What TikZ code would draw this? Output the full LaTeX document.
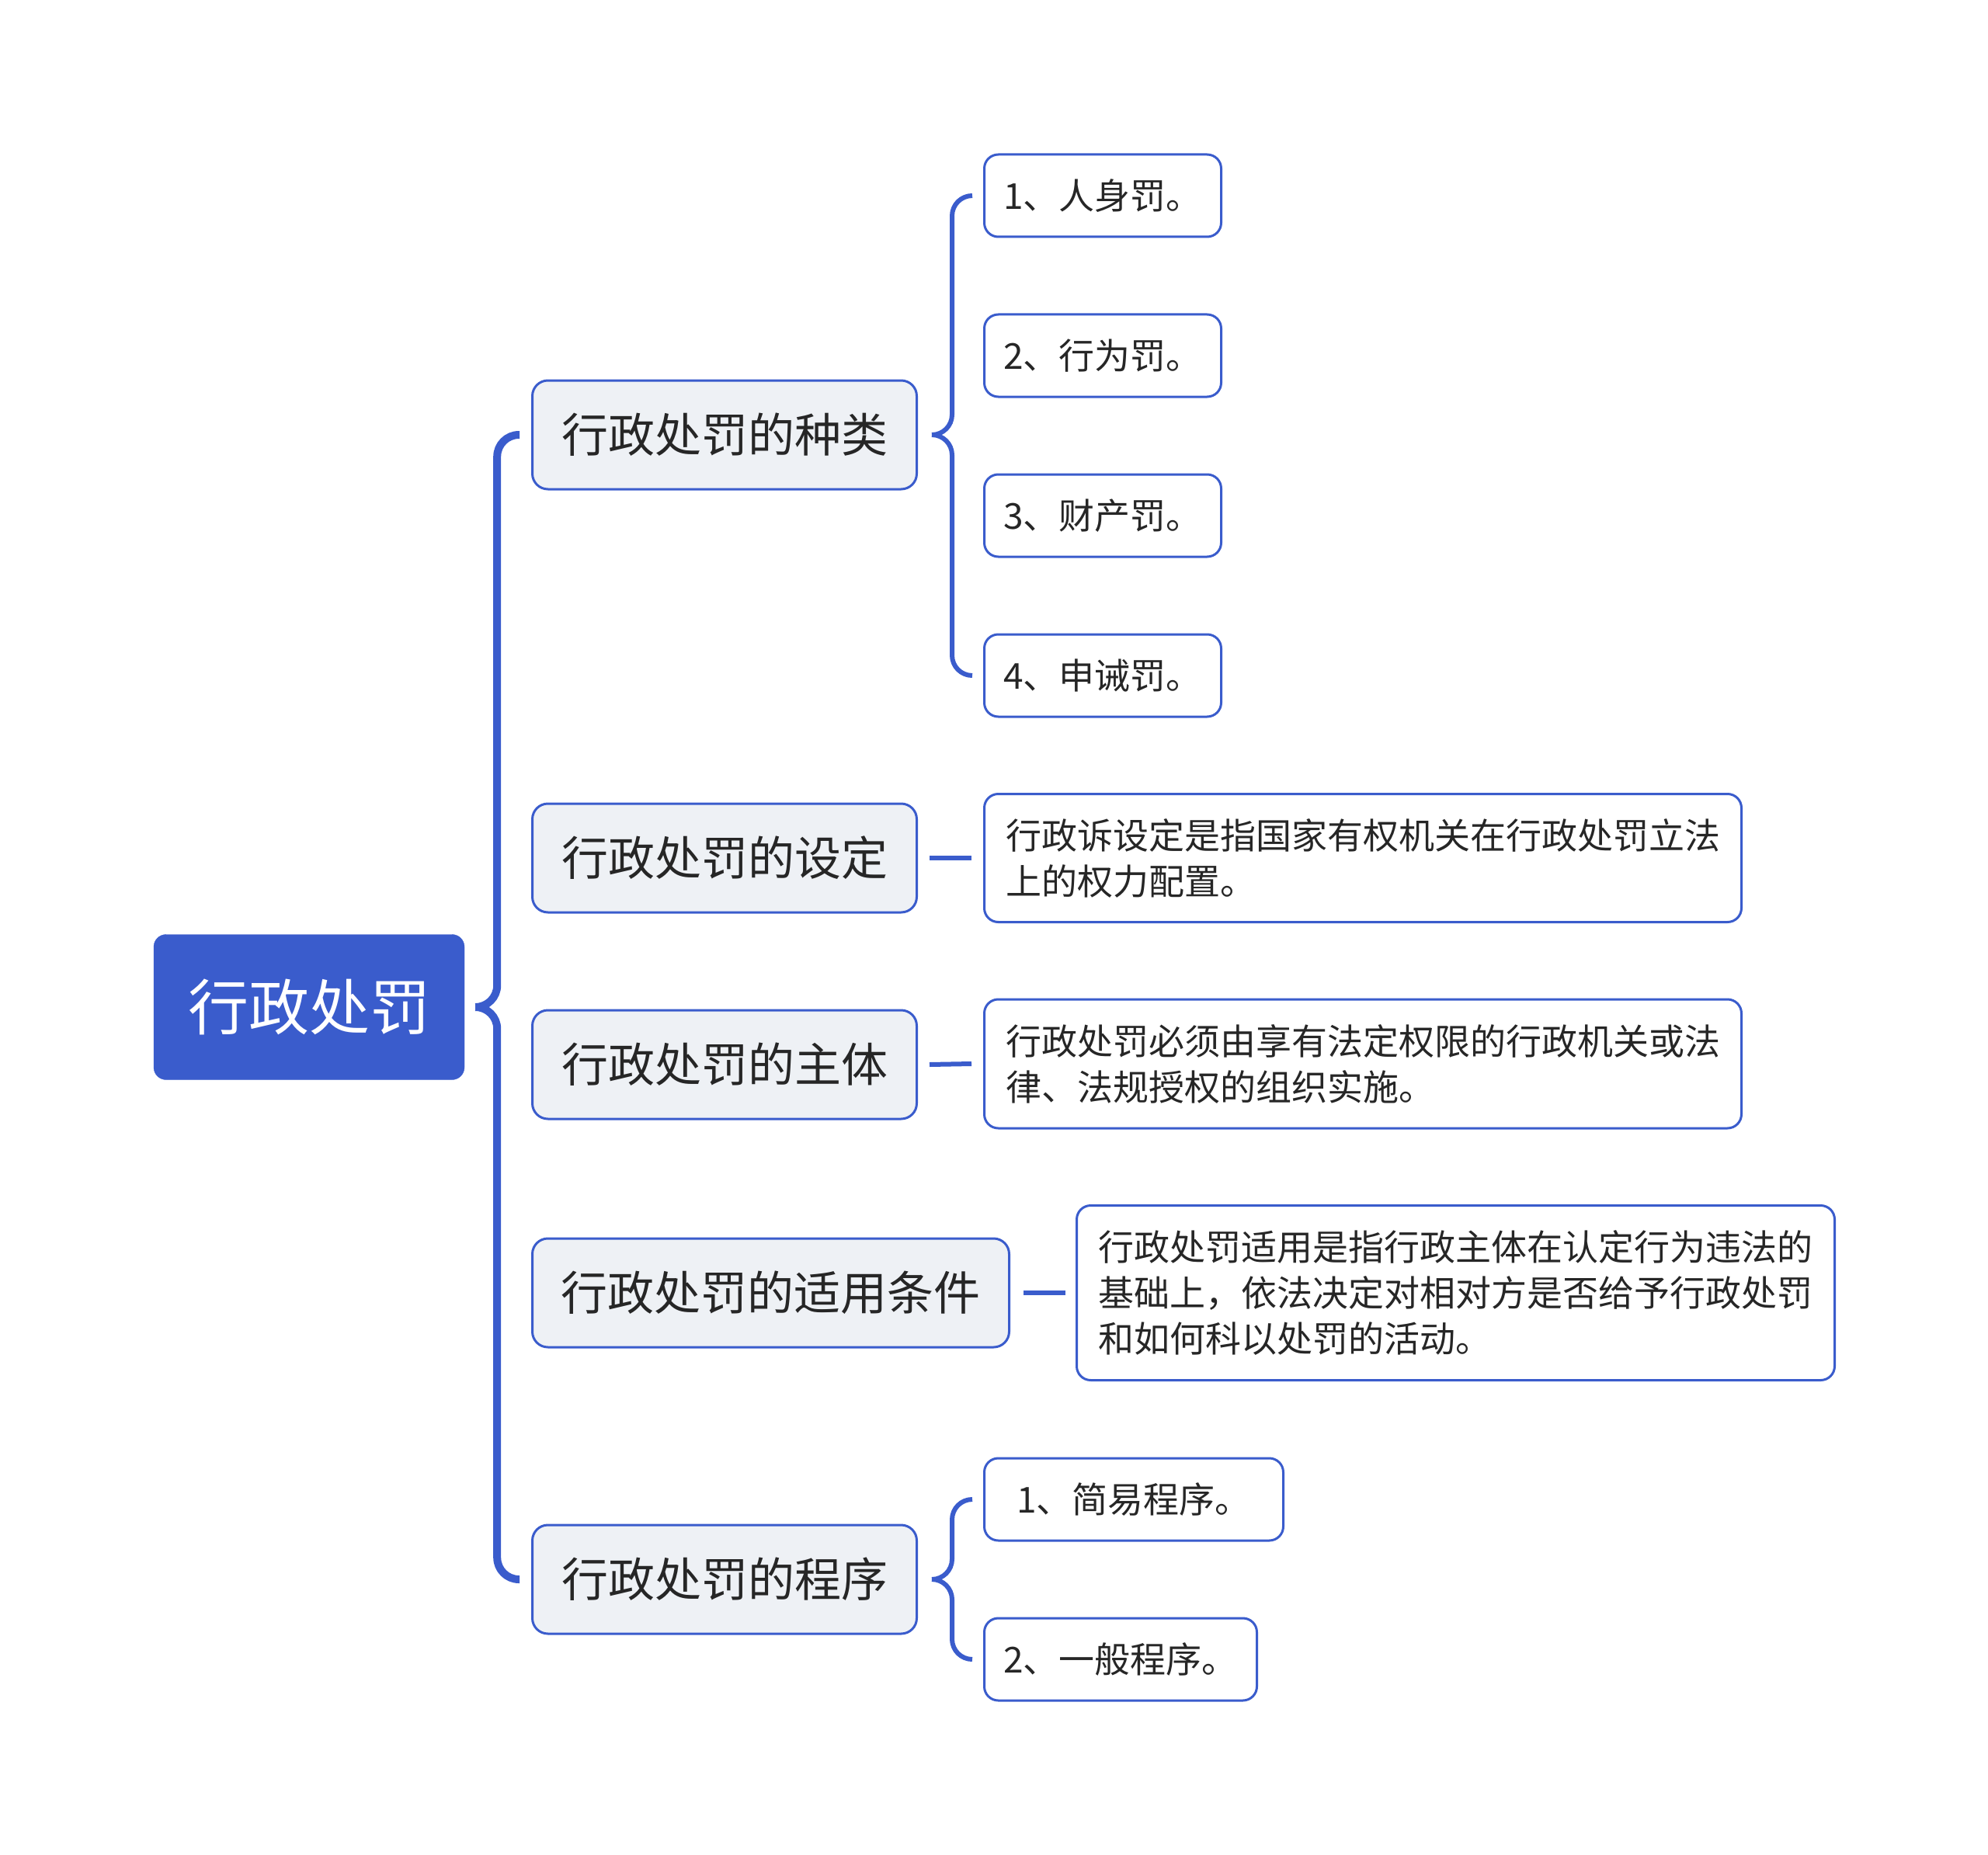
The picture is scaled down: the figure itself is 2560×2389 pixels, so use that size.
\documentclass[tikz,border=0pt]{standalone}
\usepackage{fontspec}
\usepackage{xcolor}
\usepackage{tikz}
\usetikzlibrary{positioning, calc}
\newfontfamily\cjk{Noto Sans CJK SC}
\definecolor{mapblue}{RGB}{58, 92, 204}
\definecolor{topicfill}{RGB}{238, 241, 245}
\definecolor{inkgray}{RGB}{38, 38, 38}

\begin{document}
\begin{tikzpicture}[x=1pt, y=-1pt,
    root/.style={draw=mapblue, fill=mapblue, rounded corners=16pt, minimum width=400pt, minimum height=187pt, text=white, font=\cjk\fontsize{78}{90}\selectfont},
    topic/.style={draw=mapblue, line width=3pt, fill=topicfill, rounded corners=20pt, minimum height=140pt, anchor=west, text=inkgray, font=\cjk\fontsize{60}{70}\selectfont},
    leaf/.style={draw=mapblue, line width=3pt, fill=white, rounded corners=18pt, minimum height=106pt, anchor=west, align=left, text=inkgray, font=\cjk\fontsize{46}{59}\selectfont},
    trunk/.style={mapblue, line width=10pt, rounded corners=28pt},
    twig/.style={mapblue, line width=6pt, rounded corners=26pt},
    link/.style={mapblue, line width=6pt}
]
\useasboundingbox (0,0) rectangle (2560,2389);

\node[root] (root) at (398,1297) {行政处罚};

\node[topic, minimum width=495pt] (kinds) at (684,560) {行政处罚的种类};
\node[topic, minimum width=495pt] (setting) at (684,1105) {行政处罚的设定};
\node[topic, minimum width=495pt] (subject) at (684,1371) {行政处罚的主体};
\node[topic, minimum width=614pt] (apply) at (684,1665) {行政处罚的适用条件};
\node[topic, minimum width=495pt] (proc) at (684,2034) {行政处罚的程序};

\node[leaf, minimum width=305pt] (k1) at (1266,252) {1、人身罚。};
\node[leaf, minimum width=305pt] (k2) at (1266,458) {2、行为罚。};
\node[leaf, minimum width=305pt] (k3) at (1266,664) {3、财产罚。};
\node[leaf, minimum width=305pt] (k4) at (1266,870) {4、申诫罚。};

\node[leaf, minimum width=975pt, minimum height=165pt] (sdesc) at (1266,1105)
  {行政诉设定是指国家有权机关在行政处罚立法\\上的权力配置。};
\node[leaf, minimum width=975pt, minimum height=166pt] (bdesc) at (1266,1370)
  {行政处罚必须由享有法定权限的行政机关或法\\律、法规授权的组织实施。};
\node[leaf, minimum width=976pt, minimum height=225pt] (adesc) at (1385,1665)
  {行政处罚适用是指行政主体在认定行为违法的\\基础上，依法决定对相对方是否给予行政处罚\\和如何科以处罚的活动。};

\node[leaf, minimum width=385pt] (p1) at (1266,1931) {1、简易程序。};
\node[leaf, minimum width=351pt] (p2) at (1266,2137) {2、一般程序。};

% root brace
\coordinate (rspur) at ($(root.east)+(14,0)$);
\coordinate (rtrunk) at ($(root.east)+(42,0)$);
\draw[trunk] (rspur) -- (rtrunk) -- (rtrunk |- kinds.west) -- ($(kinds.west)+(-15,0)$);
\draw[trunk] (rspur) -- (rtrunk) -- (rtrunk |- proc.west) -- ($(proc.west)+(-15,0)$);

% kinds brace
\coordinate (kspur) at ($(kinds.east)+(18,0)$);
\coordinate (ktrunk) at ($(kinds.east)+(44,0)$);
\draw[twig] (kspur) -- (ktrunk) -- (ktrunk |- k1.west) -- ($(k1.west)+(-14,0)$);
\draw[twig] (kspur) -- (ktrunk) -- (ktrunk |- k4.west) -- ($(k4.west)+(-14,0)$);

% procedure brace
\coordinate (pspur) at ($(proc.east)+(18,0)$);
\coordinate (ptrunk) at ($(proc.east)+(44,0)$);
\draw[twig] (pspur) -- (ptrunk) -- (ptrunk |- p1.west) -- ($(p1.west)+(-14,0)$);
\draw[twig] (pspur) -- (ptrunk) -- (ptrunk |- p2.west) -- ($(p2.west)+(-14,0)$);

% single links
\draw[link] ($(setting.east)+(15,0)$) -- ($(sdesc.west)+(-15,0)$);
\draw[link] ($(subject.east)+(15,0)$) -- ($(bdesc.west)+(-15,0)$);
\draw[link] ($(apply.east)+(17,0)$) -- ($(adesc.west)+(-13,0)$);

\end{tikzpicture}
\end{document}
